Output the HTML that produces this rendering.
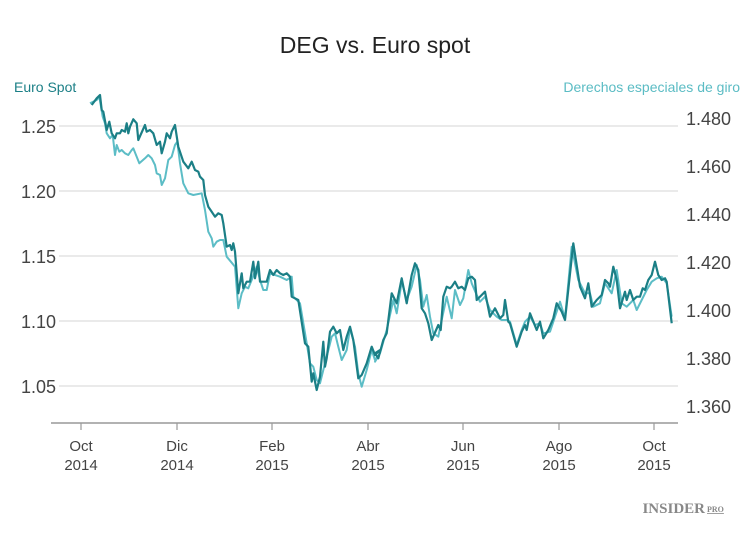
<!DOCTYPE html>
<html><head><meta charset="utf-8"><style>
body{margin:0;background:#fff;width:750px;height:530px;overflow:hidden;font-family:"Liberation Sans",sans-serif}
</style></head><body>
<svg id="s" width="750" height="530" xmlns="http://www.w3.org/2000/svg" font-family="Liberation Sans, sans-serif">
<text x="375" y="53" text-anchor="middle" font-size="23" fill="#222">DEG vs. Euro spot</text>
<text x="14" y="92" font-size="14" fill="#1b7f86">Euro Spot</text>
<text x="740" y="92" text-anchor="end" font-size="14" fill="#5bbcc4">Derechos especiales de giro</text>
<g stroke="#e3e3e3" stroke-width="1.5">
<line x1="59" x2="678" y1="126" y2="126"/><line x1="59" x2="678" y1="191" y2="191"/>
<line x1="59" x2="678" y1="256" y2="256"/><line x1="59" x2="678" y1="321" y2="321"/>
<line x1="59" x2="678" y1="386" y2="386"/></g>
<line x1="51" x2="678" y1="423" y2="423" stroke="#999" stroke-width="1.5"/>
<g stroke="#999" stroke-width="1.2"><line x1="81" x2="81" y1="423" y2="430"/><line x1="177" x2="177" y1="423" y2="430"/><line x1="272" x2="272" y1="423" y2="430"/><line x1="368" x2="368" y1="423" y2="430"/><line x1="463" x2="463" y1="423" y2="430"/><line x1="559" x2="559" y1="423" y2="430"/><line x1="654" x2="654" y1="423" y2="430"/></g>
<g font-size="18" fill="#444" text-anchor="end">
<text x="56" y="133">1.25</text><text x="56" y="198">1.20</text><text x="56" y="263">1.15</text><text x="56" y="328">1.10</text><text x="56" y="393">1.05</text></g>
<g font-size="18" fill="#444">
<text x="686" y="125">1.480</text><text x="686" y="173">1.460</text><text x="686" y="221">1.440</text><text x="686" y="269">1.420</text><text x="686" y="317">1.400</text><text x="686" y="365">1.380</text><text x="686" y="413">1.360</text></g>
<g font-size="15" fill="#444" text-anchor="middle">
<text x="81" y="451">Oct</text><text x="81" y="470">2014</text>
<text x="177" y="451">Dic</text><text x="177" y="470">2014</text>
<text x="272" y="451">Feb</text><text x="272" y="470">2015</text>
<text x="368" y="451">Abr</text><text x="368" y="470">2015</text>
<text x="463" y="451">Jun</text><text x="463" y="470">2015</text>
<text x="559" y="451">Ago</text><text x="559" y="470">2015</text>
<text x="654" y="451">Oct</text><text x="654" y="470">2015</text></g>
<polyline id="lt" fill="none" stroke="#5cbdc6" stroke-width="2" stroke-linejoin="round"/>
<polyline id="dk" fill="none" stroke="#1b7f86" stroke-width="2.2" stroke-linejoin="round"/>
<text x="705" y="513" text-anchor="end" font-family="Liberation Serif, serif" font-weight="bold" font-size="15" fill="#888">INSIDER</text>
<text x="707" y="512" font-family="Liberation Serif, serif" font-weight="bold" font-size="8" fill="#888" text-decoration="underline">PRO</text>
</svg>
<script>
function cv(a,ox,oy){var r=[];for(var i=0;i<a.length;i+=2)r.push((ox+a[i]/3).toFixed(1)+","+(oy+a[i+1]/3).toFixed(1));return r;}
var d1=[95,75,110,55,120,45,125,90,130,95,140,150,148,125,155,160,165,175,170,160,180,160,185,150,195,155,200,130,205,160,210,140,220,118,230,130,235,180,255,135,260,155,270,150,280,160,290,195,300,185,305,220,315,185,320,160,330,175,335,155,345,135,355,200,370,245,385,265,395,245,405,270,415,275,420,290,430,300,435,345,445,380,455,395,465,410,475,400,485,405,490,430,500,500,510,495,515,510,520,490,525,515,535,640,545,580,550,625,560,605,570,605,580,545,585,595,595,545,600,605,620,605,630,570,640,585,650,570,660,580,670,585,680,580,690,590,695,650,715,660,735,790,745,800,755,905,760,880,770,930,780,890,790,785,795,860,800,835,810,755,820,740,830,760,840,750,850,810,860,770,870,740,880,780,895,895,905,885,920,850,935,800,945,825,960,810];
var d2=[15,400,25,415,40,360,50,340,65,220,80,250,95,175,110,250,125,165,135,130,145,150,155,265,165,280,175,310,185,360,205,315,212,330,220,230,230,200,240,205,245,200,255,185,265,205,275,200,285,210,295,175,305,170,315,180,320,240,335,225,345,215,360,290,375,265,390,295,400,285,405,240,415,305,420,310,440,380,455,335,465,315,470,330,480,280,500,330,510,305,520,355,535,330,550,295,560,250,575,275,585,300,610,70,630,200,645,235,655,190,665,260,680,240,695,225,705,180,715,190,720,200,730,140,740,180,750,265,765,215,770,240,780,210,790,240,800,230,810,230,818,205,825,210,835,180,845,165,855,125,865,165,875,180,885,175,890,185,905,310];
var l1=[90,70,110,60,118,50,128,110,135,130,140,160,150,175,158,165,165,225,170,195,178,215,185,210,195,220,205,225,215,210,220,205,230,230,238,250,255,235,265,225,275,235,285,255,290,280,300,285,305,315,315,295,325,240,335,230,345,195,352,185,360,250,370,310,385,340,400,345,425,340,435,390,445,455,455,475,460,500,470,485,480,480,490,480,500,530,515,548,525,560,535,685,545,640,555,620,565,625,575,600,590,560,600,600,610,630,620,630,630,580,660,590,680,600,695,590,700,650,720,670,740,790,750,850,760,860,770,900,780,910,790,870,800,830,815,770,825,760,835,800,845,840,860,810,870,745,885,800,895,880,905,920,920,870,935,810,945,840,960,820];
var l2=[15,425,30,400,50,330,70,240,80,280,95,185,110,240,125,200,140,135,150,180,160,260,170,225,180,290,190,340,205,350,215,300,230,230,245,295,255,210,270,255,280,235,295,150,305,190,320,225,330,245,345,230,360,270,380,290,395,300,410,300,420,305,440,375,455,330,465,305,480,290,495,315,510,310,520,340,540,335,555,290,570,245,585,295,605,80,625,180,645,220,660,220,670,260,690,250,705,190,725,220,740,150,755,250,770,260,790,240,800,270,815,240,830,210,845,185,860,175,875,170,890,190,905,290];
document.getElementById("dk").setAttribute("points",cv(d1,60,80).concat(cv(d2,370,220)).join(" "));
document.getElementById("lt").setAttribute("points",cv(l1,60,80).concat(cv(l2,370,220)).join(" "));
</script>
</body></html>
